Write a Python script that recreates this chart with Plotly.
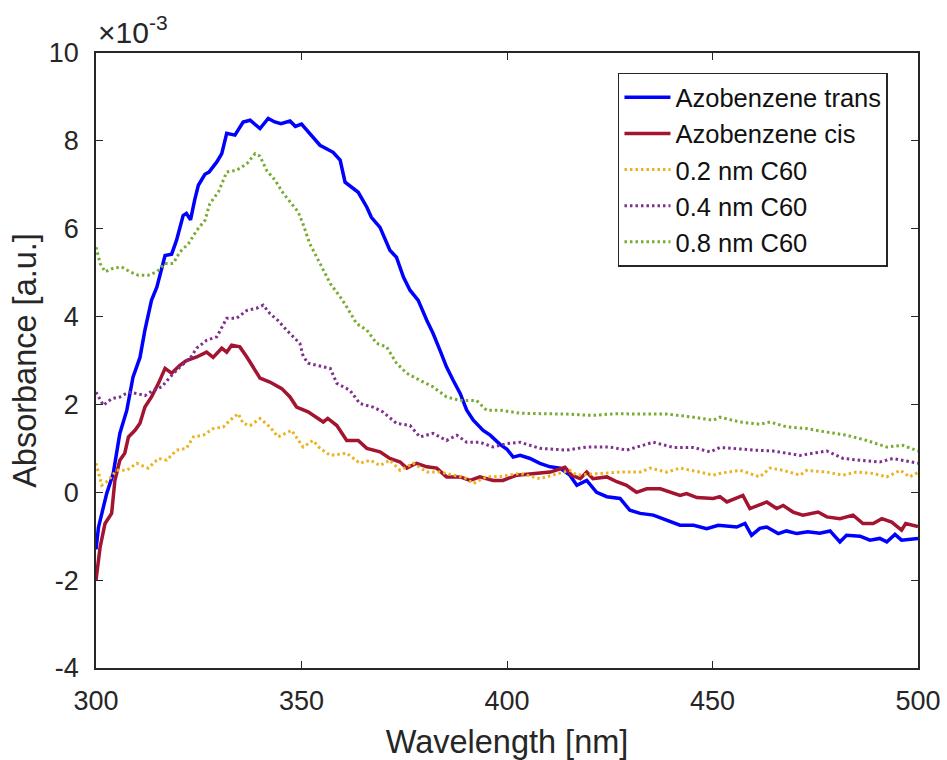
import plotly.graph_objects as go

# ---- data (absorbance in units of 1e-3) ----
wl_trans = [300, 300.6, 301.5, 302.6, 304.2, 305.8, 307.5, 309, 310.7, 311.9, 313.5, 314.8, 316.8, 318.4,
            319.6, 321.2, 322, 323, 324, 324.9, 326.5, 327.5, 329.4, 330.6, 331.8, 333.8, 335.8, 337.5,
            339.9, 341.9, 343.5, 345, 347.2, 348.5, 350, 352, 354.5, 357.7, 359.4, 360.6, 363.8, 365.9,
            367, 369.1, 371.5, 373.1, 374.8, 376.4, 378.4, 380.5, 382, 383.7, 385.3, 386.9, 388.6, 390.2,
            391.8, 394.2, 395.9, 398.3, 400, 401.5, 403.2, 405.6, 408, 410.5, 412.9, 415.3, 417, 419.4,
            421.8, 424.3, 427.5, 429.9, 432.4, 435.6, 438.9, 442.1, 445.4, 448.6, 451.4, 455.9, 457.9,
            459.5, 461.5, 463.2, 466, 468, 470.5, 473.2, 476.1, 478.6, 481, 482.6, 485.9, 488.3, 490.7,
            492.4, 494.4, 496, 500]
abs_trans = [-1.3, -0.8, -0.45, -0.03, 0.43, 1.34, 1.87, 2.62, 3.07, 3.69, 4.37, 4.67, 5.39, 5.42,
             5.74, 6.3, 6.35, 6.2, 6.65, 6.99, 7.24, 7.29, 7.52, 7.71, 8.17, 8.13, 8.43, 8.47,
             8.28, 8.51, 8.43, 8.39, 8.45, 8.33, 8.38, 8.17, 7.9, 7.74, 7.56, 7.06, 6.83, 6.49,
             6.26, 6.03, 5.51, 5.35, 4.9, 4.6, 4.37, 3.91, 3.62, 3.23, 2.85, 2.55, 2.25, 1.87,
             1.64, 1.41, 1.3, 1.09, 0.98, 0.8, 0.84, 0.77, 0.66, 0.58, 0.55, 0.39, 0.16, 0.27,
             0.0, -0.1, -0.14, -0.41, -0.48, -0.52, -0.64, -0.75, -0.75, -0.83, -0.75, -0.79, -0.71,
             -0.98, -0.82, -0.79, -0.94, -0.88, -0.94, -0.9, -0.93, -0.88, -1.13, -0.98, -1.0, -1.09, -1.05,
             -1.13, -0.96, -1.09, -1.05]

wl_cis = [300, 301, 302.2, 303.8, 304.6, 305.8, 307, 307.9, 309.5, 310.7, 311.9, 313.5, 315.2, 316.8,
          318.4, 320.4, 322, 324.5, 326.9, 328.5, 330.6, 331.8, 333, 335, 336.7, 338.3, 339.9, 342.3,
          345.2, 347.2, 348.8, 351.6, 352.8, 355.3, 356.4, 358.6, 361, 363.8, 365.9, 369.1, 371.5, 374,
          375.6, 378, 380.5, 382.9, 385.3, 388.6, 391, 393.4, 396.6, 399, 402.4, 406.4, 410.5, 414.1,
          415.7, 417.8, 419.4, 420.9, 424.3, 426.7, 429.1, 431.5, 434, 437.3, 439.7, 442.1, 443.7, 446.2,
          450.2, 451.8, 453.5, 457.4, 459.1, 463.2, 465.6, 467.2, 469.6, 472, 475.7, 477.8, 481, 484.2,
          486.6, 489.1, 491.2, 493.6, 496, 497, 500]
abs_cis = [-2.0, -1.25, -0.71, -0.48, 0.27, 0.73, 0.89, 1.26, 1.41, 1.57, 1.94, 2.17, 2.48, 2.82,
           2.71, 2.89, 3.0, 3.08, 3.19, 3.07, 3.28, 3.19, 3.35, 3.31, 3.08, 2.85, 2.6, 2.51,
           2.36, 2.17, 1.94, 1.83, 1.75, 1.6, 1.68, 1.52, 1.18, 1.18, 1.0, 0.92, 0.77, 0.69,
           0.55, 0.66, 0.58, 0.55, 0.35, 0.35, 0.27, 0.35, 0.27, 0.27, 0.39, 0.43, 0.46, 0.57,
           0.39, 0.31, 0.46, 0.31, 0.35, 0.24, 0.16, 0.0, 0.08, 0.08, 0.0, -0.07, -0.03, -0.12,
           -0.14, -0.1, -0.22, -0.07, -0.37, -0.22, -0.37, -0.3, -0.45, -0.52, -0.45, -0.56, -0.6, -0.52,
           -0.71, -0.71, -0.6, -0.68, -0.86, -0.71, -0.78]

wl_c02 = [300, 301.4, 303, 305, 307.5, 309.9, 312.7, 315.2, 317.2, 319.6, 322, 323.7, 326.1, 328.5,
          331, 332.6, 334.6, 335.8, 337.5, 339.9, 342.3, 344.3, 347.6, 350.4, 352.8, 354.5, 357, 361,
          364.2, 366.7, 369.1, 371.5, 374, 377.2, 380.5, 383.7, 386.9, 389.4, 391.8, 395, 398.3, 403.2,
          408, 411.3, 415.3, 417, 422.6, 427.5, 432.4, 434.8, 438.9, 442.1, 447, 450.2, 451.8, 456.7,
          461.5, 464, 467.2, 471.3, 472.9, 477.8, 481.8, 485, 489.1, 492.4, 495.7, 498, 500]
abs_c02 = [0.66, 0.16, 0.27, 0.5, 0.5, 0.66, 0.55, 0.77, 0.73, 0.96, 1.0, 1.26, 1.3, 1.45,
           1.49, 1.64, 1.79, 1.57, 1.52, 1.68, 1.49, 1.26, 1.41, 1.03, 1.18, 1.0, 0.84, 0.89,
           0.66, 0.73, 0.61, 0.73, 0.5, 0.66, 0.46, 0.46, 0.39, 0.35, 0.2, 0.35, 0.36, 0.43,
           0.31, 0.39, 0.5, 0.39, 0.43, 0.46, 0.46, 0.55, 0.46, 0.55, 0.46, 0.39, 0.43, 0.5,
           0.35, 0.55, 0.5, 0.39, 0.5, 0.46, 0.39, 0.46, 0.43, 0.35, 0.5, 0.35, 0.45]

wl_c04 = [300, 301.8, 303.8, 305.8, 307.9, 309.9, 311.9, 313.9, 316, 318, 320.4, 322.9, 324.5, 326.9,
          329.4, 331.8, 334.2, 336.7, 339.1, 340.7, 342.3, 344.3, 346.4, 348.8, 349.6, 350.4, 351.6, 353.7,
          357, 358.6, 361.8, 364.2, 367.4, 369.8, 373.1, 376.4, 378.8, 382, 385.3, 387.8, 390.2, 393.4,
          396.6, 400, 403.2, 408, 414.5, 419.4, 425.1, 429.1, 435.6, 440.5, 445.4, 449.4, 451.8, 455,
          459.9, 464.7, 471.3, 477.8, 481.8, 485.9, 490.7, 493.9, 500]
abs_c04 = [2.28, 1.98, 2.13, 2.17, 2.28, 2.25, 2.2, 2.32, 2.4, 2.62, 2.85, 3.05, 3.28, 3.46,
           3.54, 3.96, 3.96, 4.14, 4.19, 4.26, 4.07, 3.91, 3.69, 3.46, 3.39, 3.1, 2.94, 2.89,
           2.82, 2.48, 2.32, 2.02, 1.94, 1.83, 1.57, 1.52, 1.26, 1.34, 1.18, 1.3, 1.14, 1.14,
           1.03, 1.11, 1.14, 1.0, 0.96, 1.03, 1.03, 0.96, 1.14, 1.02, 1.02, 0.92, 1.02, 1.0,
           0.96, 0.94, 0.84, 0.94, 0.77, 0.73, 0.69, 0.77, 0.66]

wl_c08 = [300, 301, 302.2, 304.2, 306.2, 308.3, 310.3, 312.7, 314.8, 316.8, 318.8, 320.4, 322.5, 324.5,
          326.5, 327.7, 329.8, 331.8, 334.2, 336.7, 338.7, 339.9, 341.5, 343.6, 345.6, 347.2, 349.2, 350.4,
          352, 354.5, 357, 359.4, 361, 363.4, 365.9, 368.3, 370.7, 373.1, 375.6, 378.8, 382, 385.3,
          388.6, 392.6, 395, 398.3, 403.2, 408, 414.5, 420.9, 426.6, 432.4, 438.9, 445.4, 450.2, 451.8,
          456.7, 461.5, 464, 468, 472.9, 477.8, 482.6, 487.5, 492.4, 496.3, 500]
abs_c08 = [5.58, 5.21, 5.02, 5.1, 5.13, 5.02, 4.94, 4.94, 5.02, 5.21, 5.21, 5.47, 5.66, 5.96,
           6.19, 6.57, 6.84, 7.29, 7.33, 7.48, 7.71, 7.65, 7.33, 7.1, 6.8, 6.61, 6.38, 6.1,
           5.66, 5.21, 4.75, 4.45, 4.22, 3.84, 3.69, 3.39, 3.31, 2.94, 2.71, 2.55, 2.4, 2.17,
           2.09, 2.09, 1.87, 1.87, 1.8, 1.79, 1.78, 1.75, 1.79, 1.78, 1.78, 1.71, 1.64, 1.71,
           1.6, 1.55, 1.6, 1.49, 1.45, 1.37, 1.3, 1.18, 1.03, 1.07, 0.94]

names = ["Azobenzene trans", "Azobenzene cis", "0.2 nm C60", "0.4 nm C60", "0.8 nm C60"]
xs = [wl_trans, wl_cis, wl_c02, wl_c04, wl_c08]
ys = [abs_trans, abs_cis, abs_c02, abs_c04, abs_c08]
colors = ["#0000FF", "#A2142F", "#EDB120", "#7E2F8E", "#77AC30"]
dashes = ["solid", "solid", "2.5px,3px", "2.5px,3px", "2.5px,3px"]
widths = [3.5, 3.5, 3, 3, 3]

x_ticks = [300, 350, 400, 450, 500]
y_ticks = [-4, -2, 0, 2, 4, 6, 8, 10]

FONT = "Liberation Sans, Arial, Helvetica, sans-serif"
AX = "#262626"

fig = go.Figure()
for x, y, n, c, d, w in zip(xs, ys, names, colors, dashes, widths):
    fig.add_trace(go.Scatter(x=x, y=y, name=n, mode="lines",
                             line=dict(color=c, dash=d, width=w)))

axis_common = dict(showline=True, linecolor=AX, linewidth=1.5, mirror="ticks",
                   ticks="inside", ticklen=7, tickwidth=1.2, tickcolor=AX,
                   showgrid=False, zeroline=False, automargin=False,
                   tickfont=dict(family=FONT, size=27, color=AX))

fig.update_layout(
    width=947, height=760,
    margin=dict(l=96, r=29, t=53, b=92, autoexpand=False),
    paper_bgcolor="white", plot_bgcolor="white",
    font=dict(family=FONT, color=AX),
    xaxis=dict(range=[300, 500], tickvals=x_ticks, ticktext=[str(v) for v in x_ticks],
               title=dict(text="Wavelength [nm]", font=dict(family=FONT, size=32.5, color=AX), standoff=15),
               ticklabelstandoff=8, **axis_common),
    yaxis=dict(range=[-4, 10], tickvals=y_ticks, ticktext=[str(v) for v in y_ticks],
               title=dict(text="Absorbance [a.u.]", font=dict(family=FONT, size=32.5, color=AX), standoff=2),
               ticklabelstandoff=10, **axis_common),
    legend=dict(x=0.635, y=0.968, xanchor="left", yanchor="top",
                bgcolor="white", bordercolor=AX, borderwidth=1.5,
                font=dict(family=FONT, size=25.5, color="#111111"),
                itemwidth=46),
    showlegend=True,
)

fig.add_annotation(xref="paper", yref="paper", x=0, y=1, xanchor="left", yanchor="bottom",
                   text="\u00d710<sup>-3</sup>", showarrow=False, yshift=2,
                   font=dict(family=FONT, size=30, color=AX))

fig.write_html("out.html")
